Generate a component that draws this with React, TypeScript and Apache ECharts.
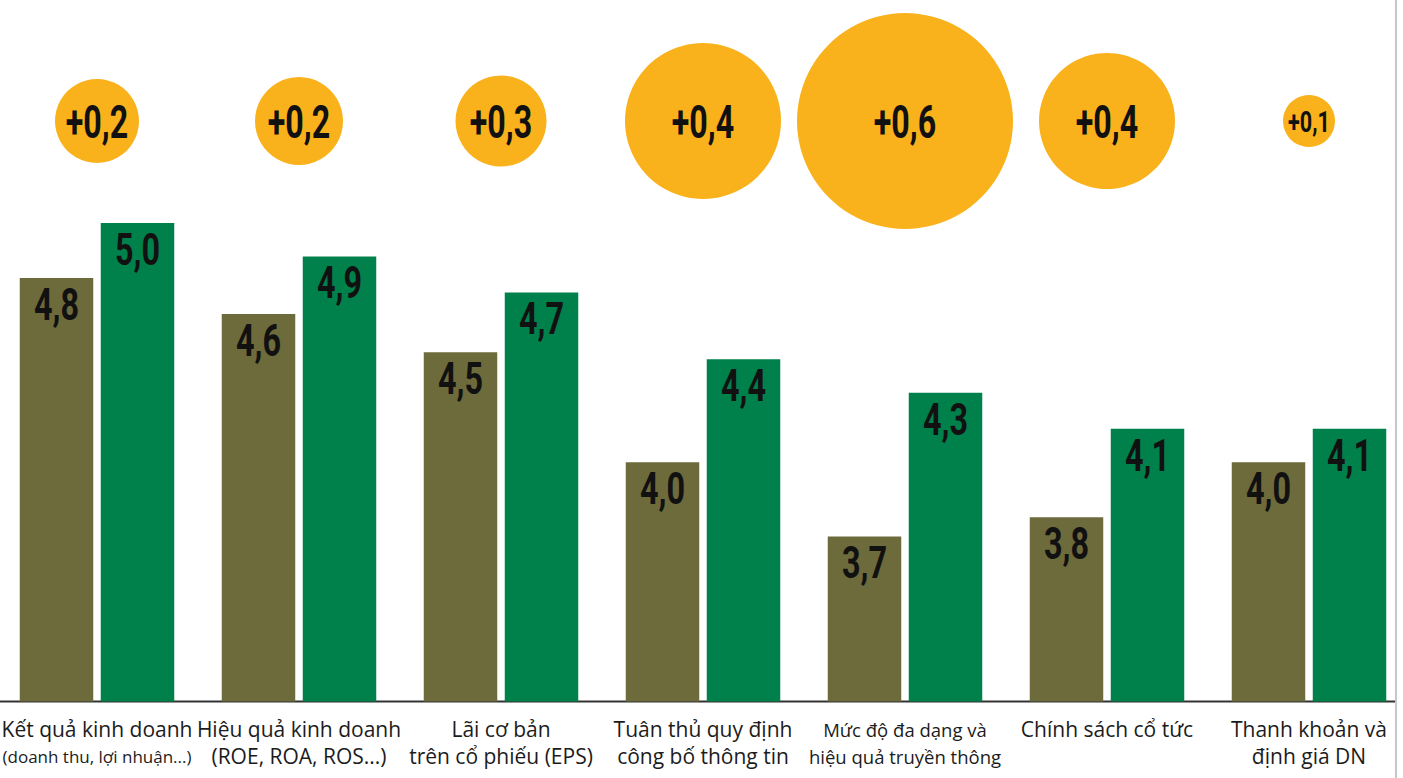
import React, { useEffect, useRef } from "react";
import * as echarts from "echarts";

const categories = [
  "Kết quả kinh doanh\n(doanh thu, lợi nhuận...)",
  "Hiệu quả kinh doanh\n(ROE, ROA, ROS...)",
  "Lãi cơ bản\ntrên cổ phiếu (EPS)",
  "Tuân thủ quy định\ncông bố thông tin",
  "Mức độ đa dạng và\nhiệu quả truyền thông",
  "Chính sách cổ tức",
  "Thanh khoản và\nđịnh giá DN",
];
const before = [4.77, 4.62, 4.46, 4.0, 3.69, 3.77, 4.0];
const after = [5.0, 4.86, 4.71, 4.43, 4.29, 4.14, 4.14];
const changes = [0.2, 0.2, 0.3, 0.4, 0.6, 0.4, 0.1];

// styling only
const BUBBLE_DIAMETERS = [84, 88, 91, 156, 216, 136, 52];
const LABEL_LINE_STYLES = [
  ["a", "d"],
  ["a", "a"],
  ["a", "a"],
  ["a", "a"],
  ["c", "c"],
  ["a"],
  ["a", "a"],
];

const NUM_FONT = "Roboto, 'DejaVu Sans', sans-serif";
const fmt = (v: number) => v.toFixed(1).replace(".", ",");

const BAR_W = 73.5;
const BAR_GAP = 7.5;

function barLabelSeries(data: number[], side: number) {
  return {
    type: "custom",
    xAxisIndex: 0,
    yAxisIndex: 0,
    z: 5,
    data: data.map((v, i) => [i, v]),
    encode: { x: 0, y: 1 },
    renderItem: (params: any, api: any) => {
      const idx = api.value(0);
      const v = api.value(1);
      const pt = api.coord([idx, v]);
      return {
        type: "text",
        x: pt[0] + side * (BAR_W + BAR_GAP) / 2,
        y: pt[1] + 27,
        scaleX: 0.72,
        style: {
          text: fmt(v),
          fill: "#111111",
          fontFamily: NUM_FONT,
          fontWeight: "bold",
          fontSize: 45,
          align: "center",
          verticalAlign: "middle",
        },
      };
    },
  };
}

export default function App() {
  const ref = useRef<HTMLDivElement>(null);
  useEffect(() => {
    if (!ref.current) return;
    const chart = echarts.init(ref.current, null, { renderer: "svg" });
    const GRID_LEFT = -4;
    const GRID_W = 1414;
    chart.setOption({
      animation: false,
      backgroundColor: "#ffffff",
      grid: [
        { left: GRID_LEFT, width: GRID_W, top: 223, height: 478.5, outerBoundsMode: "none", containLabel: false },
        { left: GRID_LEFT, width: GRID_W, top: 0, height: 242, outerBoundsMode: "none", containLabel: false },
      ],
      xAxis: [
        {
          type: "category",
          gridIndex: 0,
          data: categories,
          axisLine: { show: false },
          axisTick: { show: false },
          axisLabel: {
            interval: 0,
            margin: 14,
            color: "#1c1c1c",
            formatter: (val: string, i: number) =>
              val
                .split("\n")
                .map((line, k) => `{${LABEL_LINE_STYLES[i][k]}|${line}}`)
                .join("\n"),
            rich: {
              a: { fontFamily: "'Open Sans', sans-serif", fontSize: 21, lineHeight: 27, color: "#1c1c1c" },
              c: { fontFamily: "'Open Sans', sans-serif", fontSize: 18.5, lineHeight: 27, color: "#1c1c1c" },
              d: { fontFamily: "'Open Sans', sans-serif", fontSize: 17, lineHeight: 27, color: "#1c1c1c" },
            },
          },
        },
        {
          type: "category",
          gridIndex: 1,
          data: categories,
          show: false,
        },
      ],
      yAxis: [
        { type: "value", gridIndex: 0, min: 3, max: 5, show: false },
        { type: "value", gridIndex: 1, min: 0, max: 1, show: false },
      ],
      series: [
        {
          type: "bar",
          xAxisIndex: 0,
          yAxisIndex: 0,
          data: before,
          barWidth: BAR_W,
          barGap: (BAR_GAP / BAR_W) * 100 + "%",
          itemStyle: { color: "#6d6b3b" },
        },
        {
          type: "bar",
          xAxisIndex: 0,
          yAxisIndex: 0,
          data: after,
          barWidth: BAR_W,
          barGap: (BAR_GAP / BAR_W) * 100 + "%",
          itemStyle: { color: "#00814b" },
        },
        barLabelSeries(before, -1),
        barLabelSeries(after, 1),
        {
          type: "custom",
          xAxisIndex: 1,
          yAxisIndex: 1,
          data: changes.map((c, i) => [i, 0.5, c]),
          encode: { x: 0, y: 1 },
          renderItem: (params: any, api: any) => {
            const idx = api.value(0);
            const pt = api.coord([idx, api.value(1)]);
            const d = BUBBLE_DIAMETERS[idx];
            const small = d < 60;
            return {
              type: "group",
              children: [
                {
                  type: "circle",
                  shape: { cx: pt[0], cy: pt[1], r: d / 2 },
                  style: { fill: "#f9b21b" },
                },
                {
                  type: "text",
                  x: pt[0],
                  y: pt[1] + 1,
                  scaleX: small ? 0.72 : 0.7,
                  style: {
                    text: "+" + fmt(api.value(2)),
                    fill: "#111111",
                    fontFamily: NUM_FONT,
                    fontWeight: "bold",
                    fontSize: small ? 30 : 46,
                    align: "center",
                    verticalAlign: "middle",
                  },
                },
              ],
            };
          },
        },
      ],
      graphic: [
        {
          type: "line",
          shape: { x1: 0, y1: 701.5, x2: 1396, y2: 701.5 },
          style: { stroke: "#333333", lineWidth: 2 },
        },
        {
          type: "line",
          shape: { x1: 1396, y1: 0, x2: 1396, y2: 778 },
          style: { stroke: "#c8c8c8", lineWidth: 2 },
        },
      ],
    });
    return () => chart.dispose();
  }, []);
  return (
    <div
      ref={ref}
      style={{ position: "absolute", left: 0, top: 0, width: 1403, height: 778 }}
    />
  );
}
